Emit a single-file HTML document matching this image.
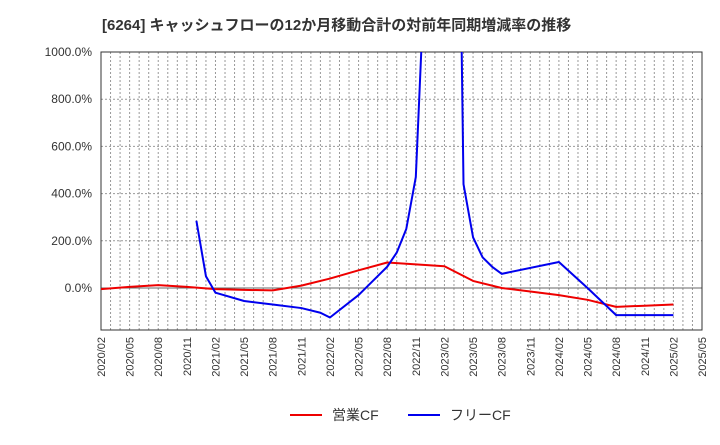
<!DOCTYPE html>
<html><head><meta charset="utf-8"><style>
body{margin:0;background:#fff;font-family:"Liberation Sans","Noto Sans CJK JP",sans-serif;}
</style></head><body>
<svg width="720" height="440" xmlns="http://www.w3.org/2000/svg">
<text x="102" y="30" font-size="15" font-weight="bold" fill="#333">[6264]  キャッシュフローの12か月移動合計の対前年同期増減率の推移</text>
<defs><clipPath id="pc"><rect x="101" y="52" width="601" height="278"/></clipPath></defs>
<g id="grid"></g>
<rect x="101" y="52" width="601" height="278" fill="none" stroke="#333"/>
<g id="axes"></g>
<g id="series" clip-path="url(#pc)"></g>
<g>
<line x1="290" y1="415" x2="322" y2="415" stroke="#e00" stroke-width="2"/>
<text x="332" y="420" font-size="14" fill="#333">営業CF</text>
<line x1="408" y1="415" x2="440" y2="415" stroke="#00e" stroke-width="2"/>
<text x="450" y="420" font-size="14" fill="#333">フリーCF</text>
</g>
</svg>
<script>
const yTicks=[0,200,400,600,800,1000];
const xLabels=["2020/02","2020/05","2020/08","2020/11","2021/02","2021/05","2021/08","2021/11","2022/02","2022/05","2022/08","2022/11","2023/02","2023/05","2023/08","2023/11","2024/02","2024/05","2024/08","2024/11","2025/02","2025/05"];
// month index from 2020/02
const redMonths=[0,3,6,9,12,15,18,21,24,27,30,33,36,39,42,45,48,51,54,57,60];
const redVals=[-5,5,12,5,-5,-8,-10,10,40,75,108,100,92,30,0,-15,-30,-50,-80,-75,-70];
const blueMonths=[10,11,12,15,18,21,23,24,27,30,31,32,33,34,35,36,37,38,39,40,41,42,48,51,54,60];
const blueVals=[285,50,-20,-55,-70,-85,-105,-125,-30,90,150,250,470,1400,2500,3000,3400,440,215,130,90,60,110,0,-115,-115];
const NS="http://www.w3.org/2000/svg";
const X0=101,X1=702,Y0=288,PER=(288-52)/1000;
const xs=m=>X0+m*(X1-X0)/63;
const ys=v=>Y0-v*PER;
function mk(tag,attrs,parent){const e=document.createElementNS(NS,tag);for(const k in attrs)e.setAttribute(k,attrs[k]);parent.appendChild(e);return e;}
const grid=document.getElementById('grid'),axes=document.getElementById('axes'),series=document.getElementById('series');
for(let m=1;m<63;m++){const l=mk('line',{x1:xs(m),x2:xs(m),y1:52,y2:330,stroke:'#999','stroke-dasharray':'2,2','stroke-width':1},grid);

}
yTicks.forEach(v=>{const l=mk('line',{x1:X0,x2:X1,y1:ys(v),y2:ys(v),stroke:v===0?'#666':'#999','stroke-dasharray':v===0?'':'2,2'},grid);


const t=mk('text',{x:92,y:ys(v)+4,'font-size':12,'text-anchor':'end',fill:'#333'},axes);t.textContent=v.toFixed(1)+'%';

});
xLabels.forEach((s,i)=>{const x=xs(i*3);const t=mk('text',{x:0,y:0,'font-size':11,'text-anchor':'end',fill:'#333',transform:`translate(${x+4},337) rotate(-90)`},axes);t.textContent=s;

});
function line(ms,vs,color,name){const p=mk('polyline',{points:ms.map((m,i)=>xs(m)+','+ys(vs[i])).join(' '),fill:'none',stroke:color,'stroke-width':2,'stroke-linejoin':'round'},series);

}
line(redMonths,redVals,'#e00','operating-cf-line');
line(blueMonths,blueVals,'#00e','free-cf-line');
</script>
</body></html>
